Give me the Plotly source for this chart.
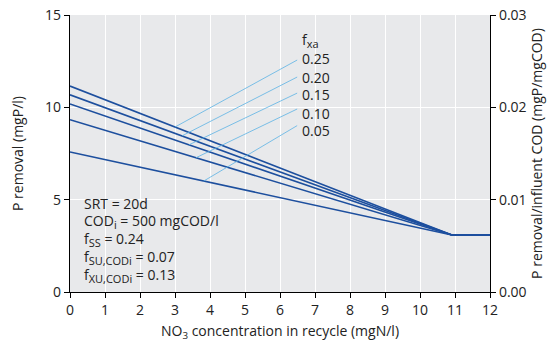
import plotly.graph_objects as go

# P removal lines for each f_xa value: value at NO3 = 0, common knee point, flat to 12
fxa_labels = ["0.25", "0.20", "0.15", "0.10", "0.05"]
p_removal_at_zero = [11.15, 10.68, 10.18, 9.33, 7.58]
knee_no3 = 10.91
knee_p = 3.09
x_max = 12

# leader lines from each curve to its label
leader_start_x = [3.0, 3.2, 3.4, 3.6, 3.82]
leader_end_x = 6.49
leader_end_y = [12.56, 11.64, 10.77, 9.91, 9.01]
label_y = [12.67, 11.64, 10.67, 9.69, 8.72]

cod_i = 500.0

line_col = "#1d4f9e"
leader_col = "#5cb3e4"
font_family = "Open Sans, Lato, DejaVu Sans, sans-serif"
txt_col = "#222"

fig = go.Figure()

for p0 in p_removal_at_zero:
    fig.add_trace(go.Scatter(
        x=[0, knee_no3, x_max], y=[p0, knee_p, knee_p],
        mode="lines", line=dict(color=line_col, width=1.6),
        showlegend=False, hoverinfo="skip"))

for p0, xs, ey, ly, lab in zip(p_removal_at_zero, leader_start_x,
                               leader_end_y, label_y, fxa_labels):
    ys = p0 + (knee_p - p0) * xs / knee_no3
    fig.add_trace(go.Scatter(
        x=[xs, leader_end_x], y=[ys, ey],
        mode="lines", line=dict(color=leader_col, width=0.8),
        showlegend=False, hoverinfo="skip"))
    fig.add_annotation(x=leader_end_x, y=ly, text=lab, showarrow=False,
                       xanchor="left", yanchor="middle", xshift=3,
                       font=dict(size=14, color=txt_col, family=font_family))


def sub(s):
    return "<sub><span style='font-size:11px'>" + s + "</span></sub>"


fig.add_annotation(x=leader_end_x, y=label_y[0] + 0.95, text="f" + sub("xa"),
                   showarrow=False, xanchor="left", yanchor="middle", xshift=3,
                   font=dict(size=14, color=txt_col, family=font_family))

# invisible trace to carry the secondary axis
fig.add_trace(go.Scatter(x=[0, x_max], y=[0, 15 / cod_i], yaxis="y2",
                         mode="lines", line=dict(width=0), opacity=0,
                         showlegend=False, hoverinfo="skip"))

info_lines = ["SRT = 20d", "COD" + sub("i") + " = 500 mgCOD/l", "f" + sub("SS") + " = 0.24",
              "f" + sub("SU,CODi") + " = 0.07", "f" + sub("XU,CODi") + " = 0.13"]
info_y = [4.8, 3.82, 2.84, 1.86, 0.88]
for t, yv in zip(info_lines, info_y):
    fig.add_annotation(x=0.33, y=yv, text=t, showarrow=False,
                       xanchor="left", yanchor="middle",
                       font=dict(size=14, color=txt_col, family=font_family))

axis_font = dict(size=14, color=txt_col, family=font_family)

fig.update_layout(
    width=558, height=345,
    margin=dict(l=70, r=68, t=15, b=53),
    paper_bgcolor="white", plot_bgcolor="#e8e9eb",
    font=axis_font,
    xaxis=dict(range=[0, x_max], dtick=1, tick0=0, showgrid=True, automargin=False,
               gridcolor="white", gridwidth=1, zeroline=False,
               showline=True, linecolor="black", linewidth=1.2,
               ticks="outside", ticklen=5, tickcolor="black",
               title=dict(text="NO<sub>3</sub> concentration in recycle (mgN/l)",
                          font=axis_font, standoff=8),
               tickfont=axis_font),
    yaxis=dict(range=[0, 15], dtick=5, tick0=0, showgrid=True, automargin=False,
               gridcolor="white", gridwidth=1, zeroline=False,
               showline=True, linecolor="black", linewidth=1.2,
               ticks="outside", ticklen=5, tickcolor="black",
               title=dict(text="P removal (mgP/l)", font=axis_font, standoff=18),
               tickfont=axis_font),
    yaxis2=dict(range=[0, 15 / cod_i], dtick=0.01, tick0=0, tickformat=".2f",
                overlaying="y", side="right", showgrid=False, zeroline=False,
                automargin=False,
                showline=True, linecolor="black", linewidth=1.2,
                ticks="outside", ticklen=5, tickcolor="black",
                title=dict(text="P removal/influent COD (mgP/mgCOD)",
                           font=axis_font, standoff=5),
                tickfont=axis_font),
)

fig.write_html("out.html")
